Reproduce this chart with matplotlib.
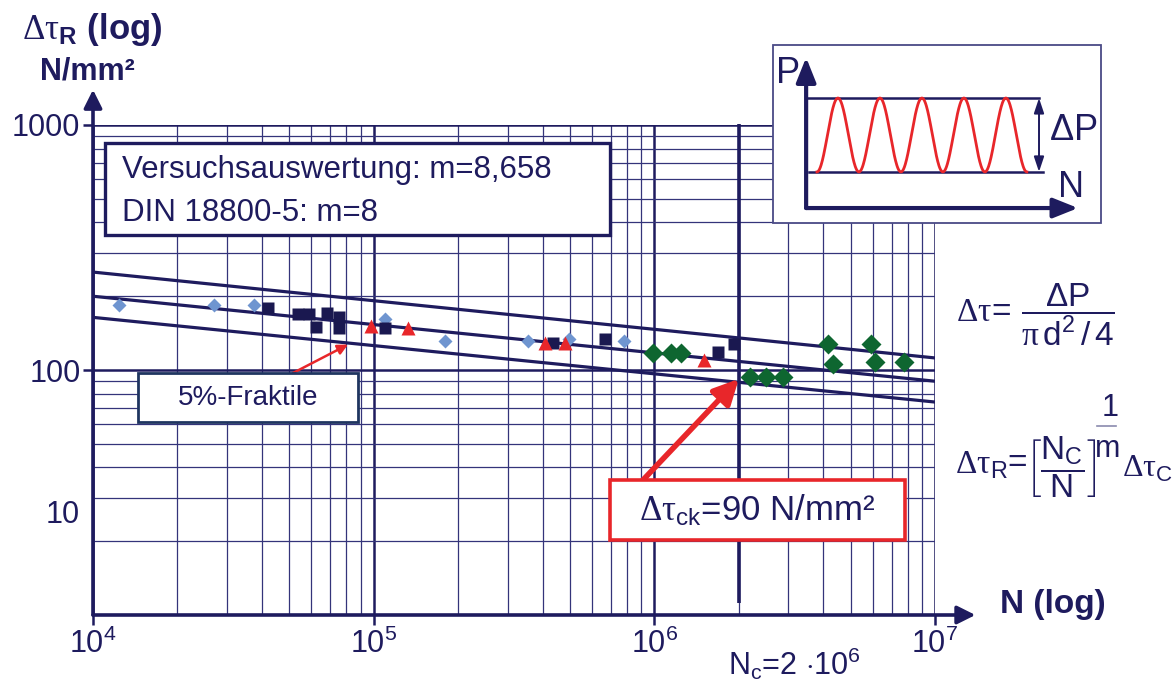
import numpy as np
import matplotlib
matplotlib.use("Agg")
import matplotlib.pyplot as plt
from matplotlib.patches import Rectangle
from matplotlib.lines import Line2D
from matplotlib.ticker import LogLocator

plt.rcParams['font.family'] = ['Liberation Sans', 'DejaVu Sans']
plt.rcParams['mathtext.fontset'] = 'custom'
plt.rcParams['mathtext.rm'] = 'Liberation Sans'
plt.rcParams['mathtext.it'] = 'Liberation Sans:italic'
plt.rcParams['mathtext.bf'] = 'Liberation Sans:bold'
plt.rcParams['mathtext.sf'] = 'Liberation Serif'

NAVY = '#1e1b5e'
GRID = '#34347a'
RED = '#e8262a'

# test results (N, delta tau_R in N/mm2)
blue_n = [1.24e4, 2.70e4, 3.75e4, 1.10e5, 1.795e5, 3.55e5, 4.97e5, 7.80e5]
blue_t = [184, 184, 184, 161, 131, 131, 134, 131]

sq_n = [4.20e4, 5.37e4, 5.88e4, 6.82e4, 7.52e4, 6.23e4, 7.52e4, 1.10e5, 4.35e5, 6.67e5, 1.69e6, 1.92e6]
sq_t = [179, 169, 169, 171, 165, 150, 148, 148, 129, 134, 118, 128]

tri_n = [9.78e4, 1.325e5, 4.08e5, 4.81e5, 1.50e6]
tri_t = [151, 148, 129, 129, 110]

gr_n = [9.89e5, 1.146e6, 1.244e6, 2.19e6, 2.50e6, 2.87e6, 4.16e6, 4.33e6, 5.92e6, 6.11e6, 7.76e6]
gr_t = [117, 117, 117, 93.6, 93.6, 93.6, 128, 106, 128, 108, 108]

# regression lines (mean + band, 5% fractile)
line_n = [1e4, 1e7]
upper_t = [251, 112]
mid_t = [200, 90]
lower_t = [164, 74]

Nc = 2e6
tau_ck = 90

x_ticks = [1e4, 1e5, 1e6, 1e7]
x_labels = [r'$10^{4}$', r'$10^{5}$', r'$10^{6}$', r'$10^{7}$']
y_ticks = [100, 1000]
y_labels = ['100', '1000']

W, H = 1175, 684


def fx(px):
    return px / W


def fy(py):
    return 1 - py / H


fig = plt.figure(figsize=(11.75, 6.84), dpi=100)
ax = fig.add_axes([fx(93), fy(615), 842 / W, 490 / H])
ax.set_xscale('log')
ax.set_yscale('log')
ax.set_xlim(1e4, 1e7)
ax.set_ylim(10, 1000)
ax.xaxis.set_minor_locator(LogLocator(subs=np.arange(2, 10)))
ax.yaxis.set_minor_locator(LogLocator(subs=np.arange(2, 10)))
ax.set_axisbelow(True)
ax.grid(which='major', color=NAVY, lw=1.8)
ax.grid(which='minor', color=GRID, lw=0.9)
for s in ax.spines.values():
    s.set_visible(False)

ax.set_xticks(x_ticks, labels=x_labels)
ax.set_yticks(y_ticks, labels=y_labels)
ax.tick_params(which='major', direction='out', length=7, width=1.8, color=NAVY,
               labelcolor=NAVY, labelsize=22)
ax.tick_params(axis='x', pad=3)
ax.tick_params(axis='y', pad=2)
ax.tick_params(which='minor', length=0)

# axes with arrows
arrow_kw = dict(arrowstyle='-|>,head_length=1.1,head_width=0.55', lw=2.6,
                color=NAVY, shrinkA=0, shrinkB=0)
ax.annotate('', xy=(0, 1.072), xytext=(0, 0), xycoords='axes fraction',
            arrowprops=arrow_kw, annotation_clip=False)
ax.annotate('', xy=(1.048, 0), xytext=(0, 0), xycoords='axes fraction',
            arrowprops=arrow_kw, annotation_clip=False)

ax.plot(line_n, upper_t, color=NAVY, lw=2.3, zorder=3)
ax.plot(line_n, mid_t, color=NAVY, lw=2.3, zorder=3)
ax.plot(line_n, lower_t, color=NAVY, lw=2.3, zorder=3)

ax.vlines(Nc, 11.2, 1010, color=NAVY, lw=2.6, zorder=3, clip_on=False)

ax.plot(blue_n, blue_t, 'D', color='#6f95d0', ms=7.5, mec='none', zorder=4)
ax.plot(sq_n, sq_t, 's', color='#1a1850', ms=8, mec='none', zorder=4)
ax.plot(tri_n, tri_t, '^', color=RED, ms=10, mec='none', zorder=4)
ax.plot(gr_n, gr_t, 'D', color='#0e6630', ms=10.5, mec='none', zorder=4)

# "10" label sits above the axis corner in the original figure
fig.text(fx(80), fy(515), '10', ha='right', va='center', fontsize=22, color=NAVY)

# arrows to the fractile line
ax.annotate('', xy=(8.1e4, 127), xytext=(fx(293), fy(373)), textcoords='figure fraction',
            arrowprops=dict(arrowstyle='-|>,head_length=0.6,head_width=0.3', lw=1.8,
                            color=RED, shrinkA=0, shrinkB=0), zorder=5)
ax.annotate('', xy=(Nc, 92), xytext=(fx(643), fy(480)), textcoords='figure fraction',
            arrowprops=dict(arrowstyle='-|>,head_length=1.5,head_width=0.75', lw=4,
                            color=RED, shrinkA=0, shrinkB=0), zorder=5)


# boxes
def box(x0, y0, x1, y1, ec, lw):
    fig.add_artist(Rectangle((fx(x0), fy(y1)), (x1 - x0) / W, (y1 - y0) / H,
                             transform=fig.transFigure, facecolor='white',
                             edgecolor=ec, lw=lw, zorder=5))


box(105, 143, 610, 235, NAVY, 2.4)
fig.text(fx(122), fy(170), 'Versuchsauswertung: m=8,658', fontsize=22.5, color=NAVY,
         va='center', zorder=6)
fig.text(fx(122), fy(213), 'DIN 18800-5: m=8', fontsize=22.5, color=NAVY,
         va='center', zorder=6)

box(138, 373, 358, 422, '#1f3560', 2.0)
fig.text(fx(248), fy(398), '5%-Fraktile', fontsize=20, color=NAVY,
         ha='center', va='center', zorder=6)

box(610, 480, 905, 540, RED, 2.6)
fig.text(fx(757), fy(510), r'$\mathsf{\Delta\tau}_\mathrm{ck}$=90 N/mm²', fontsize=25,
         color=NAVY, ha='center', va='center', zorder=6)

# axis titles
fig.text(fx(22), fy(30), r'$\mathsf{\Delta\tau}_\mathbf{R}$ (log)', fontsize=25,
         fontweight='bold', color=NAVY, va='center')
fig.text(fx(87), fy(72), 'N/mm²', fontsize=22, fontweight='bold', color=NAVY,
         ha='center', va='center')
fig.text(fx(1000), fy(605), 'N (log)', fontsize=24, fontweight='bold', color=NAVY,
         va='center')
fig.text(fx(728), fy(664), r'$\mathrm{N_c}$=2 $\cdot$10$^6$', fontsize=22, color=NAVY,
         va='center')

# formulas
fig.text(fx(956), fy(315),
         r'$\mathsf{\Delta\tau}\!=\,\dfrac{\;\Delta\mathrm{P}\;}{\mathsf{\pi}\,\mathrm{d}^2\,/\,4}$',
         fontsize=24, color=NAVY, va='center')
fig.text(fx(955), fy(465), r'$\mathsf{\Delta\tau}_\mathrm{R}$', fontsize=24,
         color=NAVY, va='center')
fig.text(fx(1017), fy(463), '=', fontsize=24, color=NAVY, ha='center', va='center')
fig.text(fx(1061), fy(467), r'$\left[\dfrac{\mathrm{N_C}}{\mathrm{N}}\right]$', fontsize=24,
         color=NAVY, ha='center', va='center')
fig.text(fx(1110), fy(408), '1', fontsize=22, color=NAVY, ha='center', va='center')
fig.add_artist(Line2D([fx(1097), fx(1116)], [fy(426), fy(426)], color='#8a8aae', lw=1.2))
fig.text(fx(1108), fy(449), 'm', fontsize=22, color=NAVY, ha='center', va='center')
fig.text(fx(1122), fy(469), r'$\mathsf{\Delta\tau}_\mathrm{C}$', fontsize=23,
         color=NAVY, va='center')

# inset: constant amplitude loading
cycles = 5
axin = fig.add_axes([fx(773), fy(223), 328 / W, 178 / H])
axin.set_xlim(0, 1)
axin.set_ylim(0, 1)
axin.axis('off')
axin.add_patch(Rectangle((0, 0), 1, 1, transform=axin.transAxes, facecolor='white',
                         edgecolor='#4a4a86', lw=1.3, clip_on=False, zorder=0))
ax_kw = dict(arrowstyle='-|>,head_length=1.5,head_width=0.6', lw=3,
             color=NAVY, shrinkA=0, shrinkB=0)
axin.annotate('', xy=(0.101, 0.93), xytext=(0.101, 0.084), arrowprops=ax_kw)
axin.annotate('', xy=(0.93, 0.084), xytext=(0.101, 0.084), arrowprops=ax_kw)
axin.plot([0.101, 0.811], [0.702, 0.702], color=NAVY, lw=1.8)
axin.plot([0.110, 0.823], [0.287, 0.287], color=NAVY, lw=1.8)
t = np.linspace(0, 1, 500)
axin.plot(0.134 + t * 0.64, 0.287 + 0.415 * (1 - np.cos(2 * np.pi * cycles * t)) / 2,
          color=RED, lw=2)
axin.annotate('', xy=(0.811, 0.702), xytext=(0.811, 0.287),
              arrowprops=dict(arrowstyle='<|-|>,head_length=0.9,head_width=0.3', lw=1.4,
                              color=NAVY, shrinkA=0, shrinkB=0))
axin.text(0.915, 0.52, r'$\Delta$P', fontsize=26, color=NAVY, ha='center', va='center')
axin.text(0.045, 0.84, 'P', fontsize=26, color=NAVY, ha='center', va='center')
axin.text(0.91, 0.2, 'N', fontsize=26, color=NAVY, ha='center', va='center')

fig.savefig('out.png', dpi=100)
